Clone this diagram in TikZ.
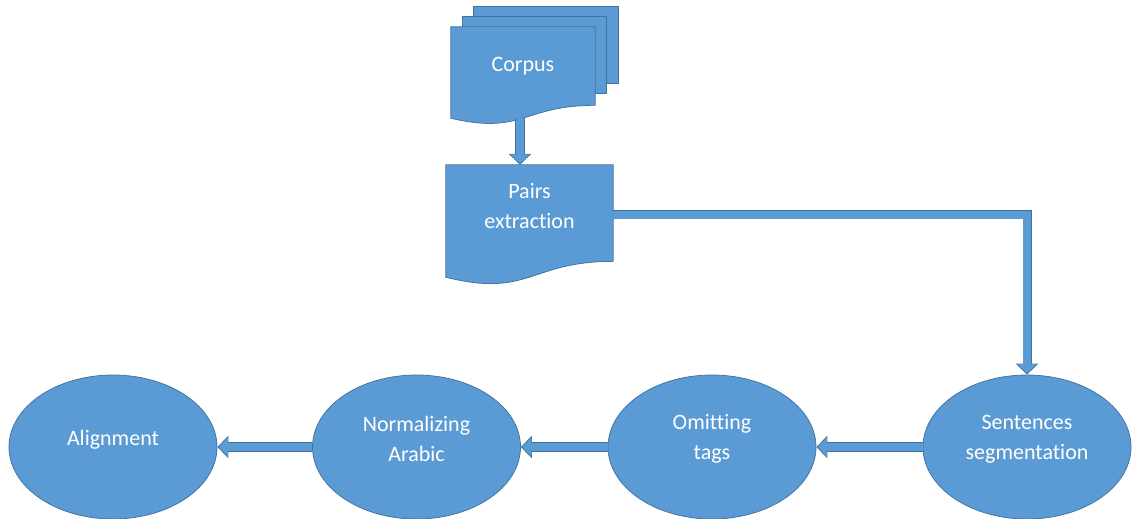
\documentclass[tikz,border=0pt]{standalone}
\usepackage{fontspec}
\setmainfont{Carlito}[Ligatures=NoCommon]
\usetikzlibrary{arrows.meta,shapes.geometric,calc,backgrounds}
\definecolor{fillc}{HTML}{5B9BD5}
\definecolor{edgec}{HTML}{41719C}
\begin{document}
\begin{tikzpicture}[x=1pt,y=-1pt,
  shapefill/.style={fill=fillc, draw=edgec, line width=0.75pt},
  txt/.style={text=white, font=\fontsize{22}{30}\selectfont, align=center},
  stepell/.style={ellipse, shapefill, minimum width=208pt, minimum height=144pt, inner sep=0pt},
  docbox/.style={rectangle, draw=none, inner sep=0pt},
  blkarrow/.style={draw=edgec, line width=10pt, -{Triangle[width=22pt,length=11pt]},
    postaction={draw=fillc, line width=8pt, shorten >=1.4pt, -{Triangle[width=18.5pt,length=9pt]}}}]
\useasboundingbox (0,0) rectangle (1132,519);

% document nodes
\node[docbox, minimum width=144pt, minimum height=97.5pt,
      label={[txt,yshift=10pt]center:Corpus}] (corpus) at (523,75.75) {};
\node[docbox, minimum width=167pt, minimum height=120pt,
      label={[txt,yshift=19pt]center:Pairs\\extraction}] (pairs) at (529.5,225) {};

\begin{scope}[on background layer]
  \draw[shapefill] (473,6) rectangle (618,83);
  \draw[shapefill] (462,16) rectangle (606,93);
  \draw[shapefill] (corpus.north west) -- (corpus.north east)
    -- ($(corpus.north east)!0.802!(corpus.south east)$)
    .. controls ($(corpus.north)!0.802!(corpus.south)$) and ($(corpus.north)!1.107!(corpus.south)$)
    .. ($(corpus.north west)!0.934!(corpus.south west)$) -- cycle;
  \draw[shapefill] (pairs.north west) -- (pairs.north east)
    -- ($(pairs.north east)!0.802!(pairs.south east)$)
    .. controls ($(pairs.north)!0.802!(pairs.south)$) and ($(pairs.north)!1.107!(pairs.south)$)
    .. ($(pairs.north west)!0.934!(pairs.south west)$) -- cycle;
\end{scope}

% ellipses
\node[stepell, label={[txt,yshift=8pt]center:Sentences\\segmentation}] (sent) at (1027,447) {};
\node[stepell, label={[txt,yshift=8pt]center:Omitting\\tags}] (omit) at (712,447) {};
\node[stepell, label={[txt,yshift=8pt]center:Normalizing\\Arabic}] (norm) at (416.5,447) {};
\node[stepell, label={[txt,yshift=7pt]center:Alignment}] (align) at (113,447) {};

% connectors
\coordinate (cs) at ([xshift=-3pt,yshift=6.5pt]corpus.south);
\draw[blkarrow] (cs) -- (cs |- pairs.north);
\coordinate (pe) at ([yshift=10.5pt]pairs.east);
\draw[blkarrow, line width=9pt, postaction={line width=7pt}] (pe) -| (sent.north);
\draw[blkarrow] (sent.west) -- (omit.east);
\draw[blkarrow] (omit.west) -- (norm.east);
\draw[blkarrow] (norm.west) -- (align.east);
\end{tikzpicture}
\end{document}
